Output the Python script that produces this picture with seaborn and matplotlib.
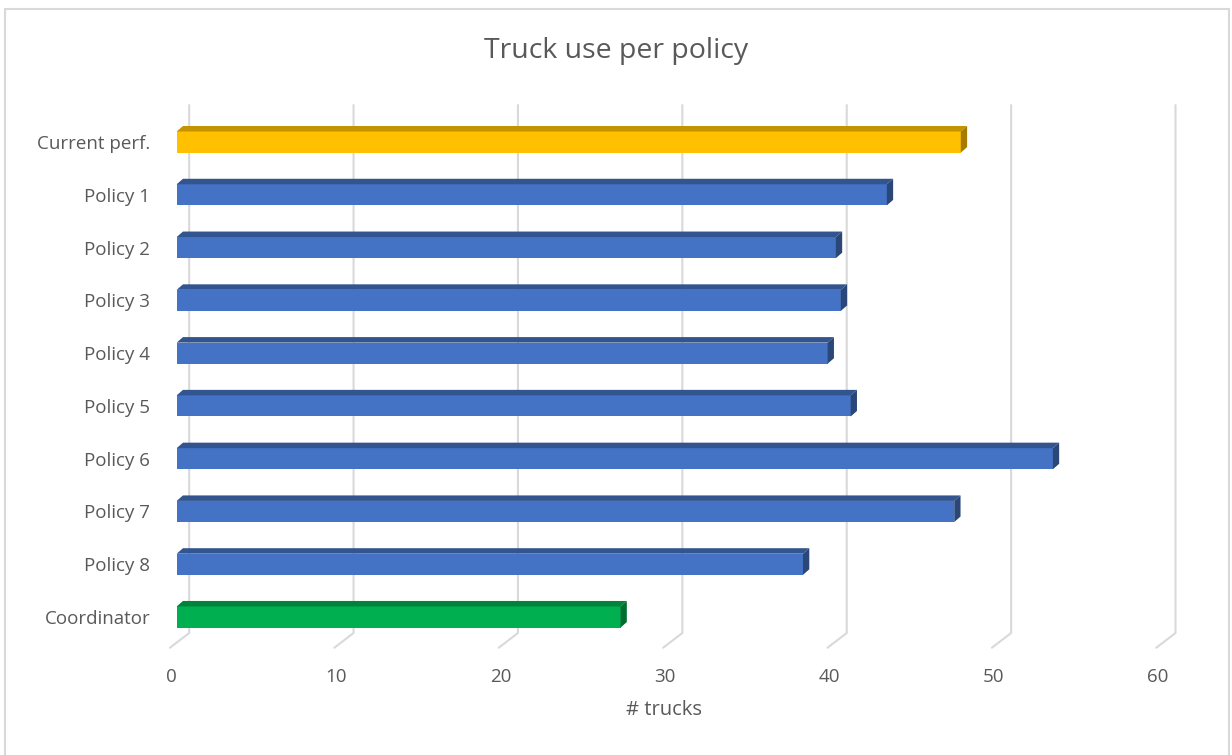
import matplotlib
matplotlib.use("Agg")
import matplotlib.pyplot as plt
import matplotlib.patches as mpatches
from matplotlib.lines import Line2D
import seaborn as sns

categories = ["Current perf.", "Policy 1", "Policy 2", "Policy 3", "Policy 4",
              "Policy 5", "Policy 6", "Policy 7", "Policy 8", "Coordinator"]
trucks = [47.7, 43.2, 40.1, 40.4, 39.6, 41.0, 53.3, 47.3, 38.1, 27.0]
x_ticks = [0, 10, 20, 30, 40, 50, 60]

front_colors = ["#FFC000"] + ["#4472C4"] * 8 + ["#00B050"]
top_colors = ["#C49300"] + ["#32548F"] * 8 + ["#00843B"]
side_colors = ["#A67C00"] + ["#2A4778"] * 8 + ["#006E31"]

TEXT = "#595959"
GRID = "#D9D9D9"

# pseudo-3D depth, in pixels
BAR_DX, BAR_DY = 6.3, 5.5
WALL_DX = 12.5
FLOOR_DX = -6.7


def main() -> None:
    sns.set_theme(style="white")
    plt.rcParams["font.family"] = ["Open Sans", "DejaVu Sans"]

    fig = plt.figure(figsize=(12.32, 7.55), dpi=100)
    ax = fig.add_axes([0.1434, 0.1478, 0.8006, 0.699])

    sns.barplot(
        x=trucks,
        y=categories,
        hue=categories,
        palette=front_colors,
        width=0.4,
        orient="h",
        legend=False,
        saturation=1,
        ax=ax,
        zorder=3,
    )
    ax.set_xlim(0, 60)
    ax.set_ylim(9.5, -0.5)

    # pixel -> data conversion
    ppu_x = 986.3 / 60
    ppu_y = 527.8 / 10
    bdx = BAR_DX / ppu_x
    bdy = BAR_DY / ppu_y

    # gridlines: back wall + floor slant
    tr = ax.get_xaxis_transform()
    y_top = 1 + 10.6 / 527.8
    y_wall = 10.4 / 527.8
    y_floor = -4.3 / 527.8
    for v in x_ticks:
        ax.add_line(Line2D(
            [v + WALL_DX / ppu_x, v + WALL_DX / ppu_x, v + FLOOR_DX / ppu_x],
            [y_top, y_wall, y_floor],
            transform=tr, color=GRID, lw=1.5, clip_on=False, zorder=1,
        ))

    # top and end faces of each bar
    for i, patch in enumerate(ax.patches[:len(trucks)]):
        x0 = patch.get_x()
        x1 = x0 + patch.get_width()
        ya = patch.get_y()
        yb = ya + patch.get_height()
        ytop, ybot = min(ya, yb), max(ya, yb)
        patch.set_edgecolor("none")
        top = mpatches.Polygon(
            [(x0, ytop), (x1, ytop), (x1 + bdx, ytop - bdy), (x0 + bdx, ytop - bdy)],
            closed=True, facecolor=top_colors[i], edgecolor="none", zorder=4, clip_on=False,
        )
        side = mpatches.Polygon(
            [(x1, ytop), (x1, ybot), (x1 + bdx, ybot - bdy), (x1 + bdx, ytop - bdy)],
            closed=True, facecolor=side_colors[i], edgecolor="none", zorder=4, clip_on=False,
        )
        ax.add_patch(top)
        ax.add_patch(side)

    for s in ax.spines.values():
        s.set_visible(False)
    ax.grid(False)
    ax.set_xticks(x_ticks)
    ax.set_xticklabels([str(t) for t in x_ticks])
    ax.tick_params(axis="x", length=0, pad=18, labelsize=13.5, labelcolor=TEXT)
    ax.tick_params(axis="y", length=0, pad=19, labelsize=13.5, labelcolor=TEXT)
    shift = matplotlib.transforms.ScaledTranslation(-5 / 100, 0, fig.dpi_scale_trans)
    for lab in ax.get_xticklabels():
        lab.set_transform(lab.get_transform() + shift)

    ax.set_ylabel("")
    ax.set_xlabel("# trucks", fontsize=14.5, color=TEXT)
    ax.xaxis.set_label_coords(0.4936, -0.108)

    fig.text(0.5, 0.932, "Truck use per policy", ha="center", va="center",
             fontsize=20.5, color=TEXT)

    border = mpatches.Rectangle(
        (5 / 1232, -0.05), 1224 / 1232, 1.05 - 8.5 / 755,
        transform=fig.transFigure, fill=False, edgecolor=GRID, lw=1.5,
    )
    fig.patches.append(border)

    fig.savefig("out.png", dpi=100)
    plt.close(fig)


if __name__ == "__main__":
    main()
